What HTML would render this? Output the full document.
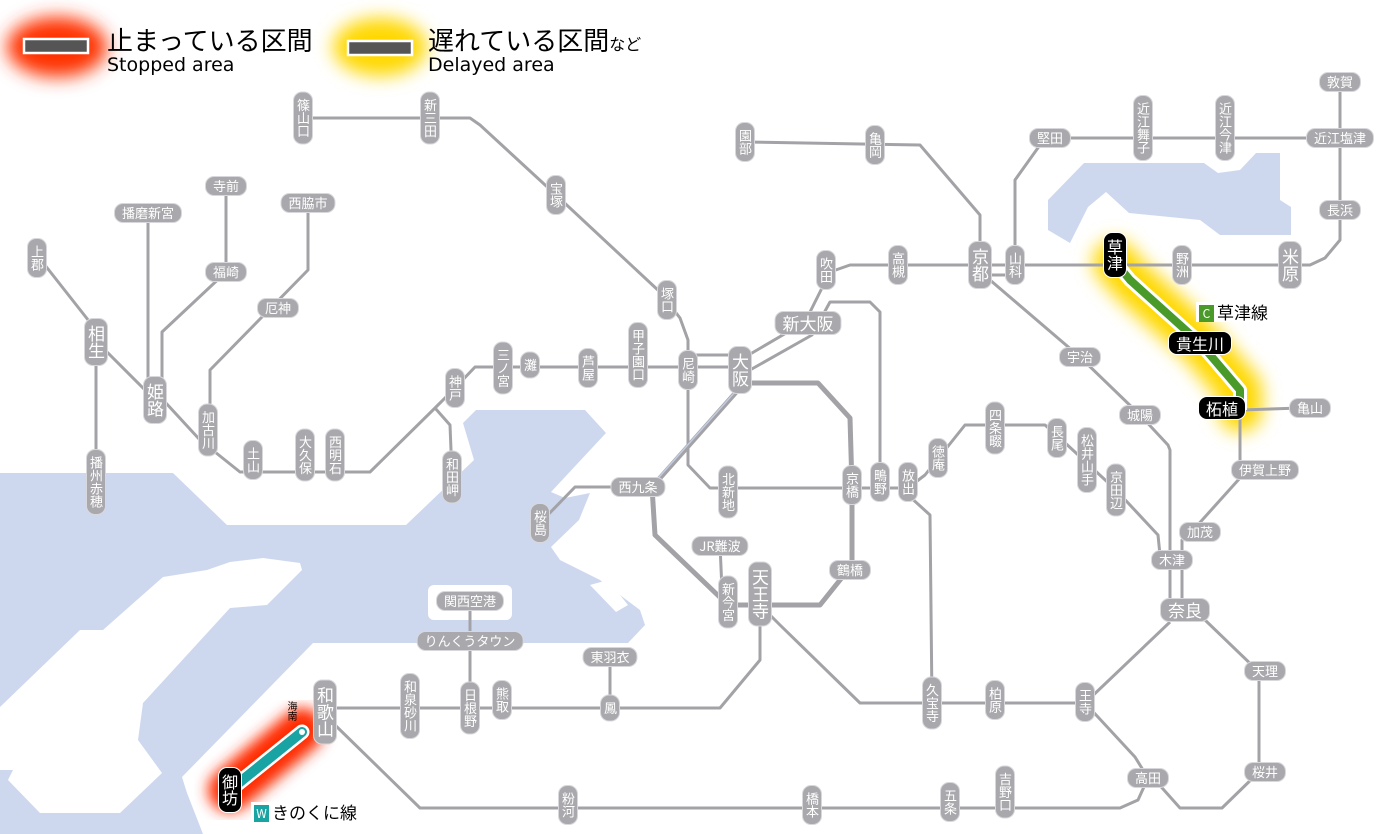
<!DOCTYPE html>
<html><head><meta charset="utf-8">
<style>
html,body{margin:0;padding:0;background:#fff;}
#w{position:relative;width:1400px;height:834px;overflow:hidden;font-family:"Liberation Sans","Noto Sans CJK JP",sans-serif;}
svg{position:absolute;left:0;top:0;}
.s{position:absolute;transform:translate(-50%,-50%);background:#a9a9ad;color:#fff;font-size:13px;line-height:14px;border-radius:9px;border:1px solid #d8d8dc;white-space:nowrap;font-family:"Noto Sans CJK JP",sans-serif;}
.h{padding:2px 7px;}
.v{writing-mode:vertical-rl;padding:6px 2px;}
.L{font-size:17px;line-height:18px;}
.k{background:#000;border-color:#fff;font-size:16px;line-height:18px;}
.t{position:absolute;color:#000;font-family:"Noto Sans CJK JP",sans-serif;}
</style></head><body><div id="w">
<svg width="1400" height="834" viewBox="0 0 1400 834">
<defs>
<filter id="b" x="-50%" y="-50%" width="200%" height="200%"><feGaussianBlur stdDeviation="9"/></filter>
<filter id="b2" x="-50%" y="-50%" width="200%" height="200%"><feGaussianBlur stdDeviation="7"/></filter>
</defs>
<polygon fill="#cdd8ef" points="0,473 173,473 227,525 406,525 474,460 463,423 476,410 585,410 606,433 551,492 565,498 590,493 579,520 551,547 560,560 600,580 640,610 645,625 628,643 313,643 182,777 187,793 203,834 0,834"/>
<polygon fill="#fff" points="263,558 300,563 302,570 267,605 230,608 143,703 138,740 162,773 120,813 40,813 8,780 13,770 0,770 0,707 80,630 103,630 163,577 207,570 230,562"/>
<rect x="428" y="585" width="84" height="35" rx="6" fill="#fff"/>
<polygon fill="#fff" points="568,552 585,548 600,565 592,575"/>
<polygon fill="#fff" points="590,585 608,580 628,605 616,612"/>
<polygon fill="#cdd8ef" points="1048,200 1084,163 1204,163 1218,173 1240,170 1256,153 1280,153 1280,200 1291,207 1291,235 1220,235 1200,220 1129,213 1106,192 1088,207 1070,243 1048,230"/>
<ellipse cx="57" cy="47" rx="50" ry="30" fill="#ff3300" filter="url(#b)"/>
<ellipse cx="380" cy="47" rx="47" ry="29" fill="#ffd800" filter="url(#b)"/>
<polyline points="1115,262 1130,280 1200,343 1240,390 1240,410" fill="none" stroke="#ffd800" stroke-width="44" stroke-linecap="round" stroke-linejoin="round" filter="url(#b)"/>
<line x1="230" y1="790" x2="302" y2="730" stroke="#ff2a00" stroke-width="44" stroke-linecap="round" filter="url(#b2)"/>
<rect x="24" y="39" width="64" height="14" fill="#555" stroke="#fff" stroke-width="2.5"/>
<rect x="348" y="41" width="64" height="14" fill="#555" stroke="#fff" stroke-width="2.5"/>
<g fill="none" stroke="#a3a3a7" stroke-width="3" stroke-linejoin="round">
<polyline points="303,118 470,118 480,125 556,195 660,292 680,318 688,340 688,465 710,488 908,488"/>
<polyline points="37,255 96,330"/>
<polyline points="96,342 96,480"/>
<polyline points="100,345 155,400 165,402 200,440 240,472 370,472 435,408 455,388 475,367 740,367"/>
<polyline points="688,355 740,355"/>
<polyline points="435,408 450,425 452,475"/>
<polyline points="148,213 148,400"/>
<polyline points="226,186 226,272 162,332 162,390"/>
<polyline points="308,203 308,270 210,370 210,430"/>
<polyline points="740,360 805,322 830,272 850,265 1310,265 1325,258 1340,240 1340,82"/>
<polyline points="750,370 812,335 830,302 870,302 880,312 880,488"/>
<polyline points="1015,265 1015,180 1040,145 1050,138 1340,138"/>
<polyline points="980,265 980,215 920,145 745,142"/>
<polyline points="985,275 1015,275"/>
<polyline points="990,280 1080,357 1140,415 1168,445 1170,450 1170,610"/>
<polyline points="1240,410 1300,408"/>
<polyline points="1240,410 1240,478 1195,528 1182,540 1182,610"/>
<polyline points="908,488 925,475 965,425 1045,425 1062,440 1116,490 1158,535 1160,555"/>
<polyline points="908,495 930,515 932,703 1085,703 1170,622"/>
<polyline points="760,605 780,625 860,703 932,703"/>
<polyline points="1205,620 1259,672 1259,772 1222,808 1180,808 1155,780"/>
<polyline points="1085,703 1135,757 1148,778 1138,800 1120,808 420,808 335,725"/>
<polyline points="325,708 720,708 760,660 760,605"/>
<polyline points="610,657 610,708"/>
<polyline points="470,601 470,708"/>
<polyline points="720,545 722,590 728,600"/>
<polyline points="650,487 575,487 540,523"/>
<polyline points="740,605 760,605"/>
</g>
<g fill="none" stroke="#a3a3a7" stroke-width="5" stroke-linejoin="round">
<polyline points="740,383 818,383 850,418 852,487 852,565 820,605 728,605 655,535 652,487 738,390"/>
</g>
<line x1="742" y1="384" x2="652" y2="485" stroke="#c3cce0" stroke-width="1.5"/>
<polyline points="1115,262 1130,280 1200,343 1240,390 1240,410" fill="none" stroke="#fff" stroke-width="14" stroke-linejoin="round"/>
<polyline points="1115,262 1130,280 1200,343 1240,390 1240,410" fill="none" stroke="#4a9a2a" stroke-width="8" stroke-linejoin="round"/>
<line x1="230" y1="790" x2="302" y2="732" stroke="#fff" stroke-width="15" stroke-linecap="round"/>
<line x1="230" y1="790" x2="302" y2="732" stroke="#1aa3a3" stroke-width="10" stroke-linecap="round"/>
<circle cx="302" cy="732" r="3" fill="#fff"/>
</svg>
<div class="t" style="left:107px;top:24px;font-size:26px;line-height:32px;">止まっている区間</div>
<div class="t" style="left:107px;top:54px;font-size:19px;font-family:'DejaVu Sans',sans-serif;">Stopped area</div>
<div class="t" style="left:428px;top:24px;font-size:26px;line-height:32px;">遅れている区間<span style="font-size:16px">など</span></div>
<div class="t" style="left:428px;top:54px;font-size:19px;font-family:'DejaVu Sans',sans-serif;">Delayed area</div>

<div class="s v" style="left:303px;top:118px">篠山口</div>
<div class="s v" style="left:430px;top:118px">新三田</div>
<div class="s v" style="left:556px;top:195px">宝塚</div>
<div class="s v" style="left:667px;top:300px">塚口</div>
<div class="s v" style="left:638px;top:355px">甲子園口</div>
<div class="s v" style="left:588px;top:368px">芦屋</div>
<div class="s v" style="left:530px;top:365px">灘</div>
<div class="s v" style="left:503px;top:368px">三ノ宮</div>
<div class="s v" style="left:688px;top:370px">尼崎</div>
<div class="s v L" style="left:740px;top:370px">大阪</div>
<div class="s v" style="left:455px;top:388px">神戸</div>
<div class="s v" style="left:452px;top:477px">和田岬</div>
<div class="s v" style="left:37px;top:258px">上郡</div>
<div class="s v L" style="left:96px;top:342px">相生</div>
<div class="s v" style="left:96px;top:482px">播州赤穂</div>
<div class="s v L" style="left:155px;top:400px">姫路</div>
<div class="s v" style="left:208px;top:430px">加古川</div>
<div class="s v" style="left:253px;top:460px">土山</div>
<div class="s v" style="left:305px;top:455px">大久保</div>
<div class="s v" style="left:335px;top:455px">西明石</div>
<div class="s h" style="left:226px;top:186px">寺前</div>
<div class="s h" style="left:148px;top:213px">播磨新宮</div>
<div class="s h" style="left:308px;top:203px">西脇市</div>
<div class="s h" style="left:226px;top:272px">福崎</div>
<div class="s h" style="left:278px;top:308px">厄神</div>
<div class="s v" style="left:745px;top:142px">園部</div>
<div class="s v" style="left:875px;top:145px">亀岡</div>
<div class="s v" style="left:826px;top:270px">吹田</div>
<div class="s v" style="left:898px;top:265px">高槻</div>
<div class="s v L" style="left:980px;top:265px">京都</div>
<div class="s v" style="left:1015px;top:265px">山科</div>
<div class="s v" style="left:1182px;top:265px">野洲</div>
<div class="s v L" style="left:1290px;top:265px">米原</div>
<div class="s v" style="left:1143px;top:128px">近江舞子</div>
<div class="s v" style="left:1225px;top:128px">近江今津</div>
<div class="s h" style="left:1050px;top:138px">堅田</div>
<div class="s h" style="left:1340px;top:138px">近江塩津</div>
<div class="s h" style="left:1340px;top:82px">敦賀</div>
<div class="s h" style="left:1340px;top:210px">長浜</div>
<div class="s h L" style="left:808px;top:323px">新大阪</div>
<div class="s h" style="left:1080px;top:357px">宇治</div>
<div class="s h" style="left:1140px;top:415px">城陽</div>
<div class="s h" style="left:1310px;top:408px">亀山</div>
<div class="s h" style="left:1265px;top:470px">伊賀上野</div>
<div class="s h" style="left:1200px;top:532px">加茂</div>
<div class="s h" style="left:1172px;top:560px">木津</div>
<div class="s h L" style="left:1185px;top:610px">奈良</div>
<div class="s h" style="left:1265px;top:671px">天理</div>
<div class="s h" style="left:1265px;top:772px">桜井</div>
<div class="s h" style="left:1148px;top:778px">高田</div>
<div class="s v" style="left:728px;top:492px">北新地</div>
<div class="s v" style="left:852px;top:485px">京橋</div>
<div class="s v" style="left:880px;top:482px">鴫野</div>
<div class="s v" style="left:908px;top:482px">放出</div>
<div class="s v" style="left:938px;top:458px">徳庵</div>
<div class="s v" style="left:995px;top:428px">四条畷</div>
<div class="s v" style="left:1057px;top:438px">長尾</div>
<div class="s v" style="left:1087px;top:460px">松井山手</div>
<div class="s v" style="left:1116px;top:490px">京田辺</div>
<div class="s h" style="left:638px;top:487px">西九条</div>
<div class="s v" style="left:540px;top:523px">桜島</div>
<div class="s h" style="left:720px;top:546px">JR難波</div>
<div class="s h" style="left:850px;top:570px">鶴橋</div>
<div class="s v" style="left:728px;top:602px">新今宮</div>
<div class="s v L" style="left:760px;top:594px">天王寺</div>
<div class="s h" style="left:470px;top:601px">関西空港</div>
<div class="s h" style="left:470px;top:641px">りんくうタウン</div>
<div class="s h" style="left:610px;top:657px">東羽衣</div>
<div class="s v L" style="left:325px;top:712px">和歌山</div>
<div class="s v" style="left:410px;top:706px">和泉砂川</div>
<div class="s v" style="left:470px;top:708px">日根野</div>
<div class="s v" style="left:502px;top:700px">熊取</div>
<div class="s v" style="left:610px;top:708px">鳳</div>
<div class="s v" style="left:932px;top:703px">久宝寺</div>
<div class="s v" style="left:995px;top:700px">柏原</div>
<div class="s v" style="left:1085px;top:702px">王寺</div>
<div class="s v" style="left:568px;top:805px">粉河</div>
<div class="s v" style="left:812px;top:805px">橋本</div>
<div class="s v" style="left:950px;top:802px">五条</div>
<div class="s v" style="left:1005px;top:792px">吉野口</div>
<div class="s v k" style="left:1115px;top:255px">草津</div>
<div class="s h k" style="left:1200px;top:343px">貴生川</div>
<div class="s h k" style="left:1222px;top:408px">柘植</div>
<div class="s v k" style="left:230px;top:790px">御坊</div>
<div class="t" style="left:287px;top:701px;font-size:10px;line-height:11px;writing-mode:vertical-rl;">海南</div>
<div class="t" style="left:1196px;top:302px;font-size:17px;line-height:20px;background:#fff;padding:0 3px;"><span style="display:inline-block;background:#4a9a2a;color:#fff;font-size:12px;width:15px;height:17px;line-height:17px;text-align:center;margin-right:3px;vertical-align:1px;">C</span>草津線</div>
<div class="t" style="left:251px;top:802px;font-size:17px;line-height:20px;background:#fff;padding:0 3px;"><span style="display:inline-block;background:#1aa3a3;color:#fff;font-size:12px;width:15px;height:17px;line-height:17px;text-align:center;margin-right:3px;vertical-align:1px;">W</span>きのくに線</div>
</div></body></html>
